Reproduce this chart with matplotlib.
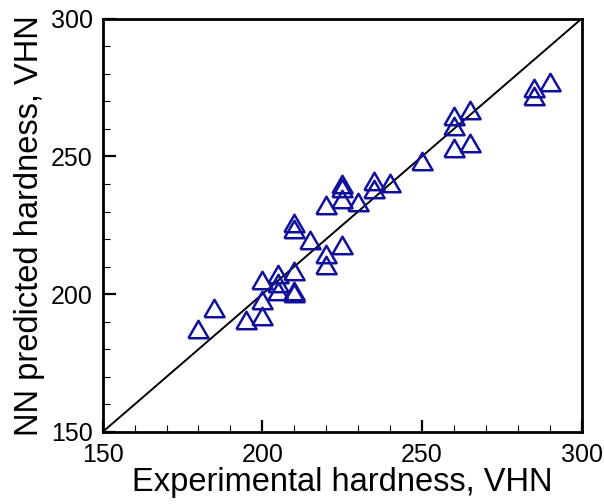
import matplotlib.pyplot as plt
from matplotlib.ticker import MultipleLocator

plt.rcParams['font.family'] = ['Liberation Sans', 'DejaVu Sans']

# experimental vs NN predicted hardness (VHN)
experimental = [180, 185, 195, 200, 200, 200, 205, 205, 205, 210, 210, 210,
                210, 210, 215, 220, 220, 220, 225, 225, 225, 225, 230, 235,
                235, 240, 250, 260, 260, 260, 265, 265, 285, 285, 290]
predicted = [187.5, 195, 190.5, 192, 198, 205, 207.5, 204, 201, 208.5, 201, 200.5,
             226, 223.5, 219.5, 232.5, 214.5, 210.5, 218, 240, 238.5, 234.5, 233.5, 241,
             238, 240.5, 248.5, 264.5, 261, 253, 267, 255, 275, 272, 277]

x_label = 'Experimental hardness, VHN'
y_label = 'NN predicted hardness, VHN'
lims = [150, 300]

# equilateral triangle marker
tri = [(-1, -0.866), (1, -0.866), (0, 0.866), (-1, -0.866)]

fig = plt.figure(figsize=(6.04, 5.04), dpi=100)
ax = fig.add_axes([0.170, 0.143, 0.793, 0.820])

ax.plot(lims, lims, color='black', lw=1.4, zorder=1)
ax.plot(experimental, predicted, linestyle='none', marker=tri, ms=14.5,
        mfc='none', mec='#10109a', mew=1.8, zorder=2)

ax.set_xlim(lims)
ax.set_ylim(lims)
ax.xaxis.set_major_locator(MultipleLocator(50))
ax.yaxis.set_major_locator(MultipleLocator(50))
ax.xaxis.set_minor_locator(MultipleLocator(10))
ax.yaxis.set_minor_locator(MultipleLocator(10))
ax.tick_params(which='both', direction='in', color='black', labelsize=18)
ax.tick_params(which='major', length=9, width=1.6)
ax.tick_params(which='minor', length=5, width=0.8)
ax.tick_params(axis='x', pad=8)
ax.tick_params(axis='y', pad=7)

for sp in ax.spines.values():
    sp.set_linewidth(2.0)

ax.set_xlabel(x_label, fontsize=23.5, labelpad=0)
ax.set_ylabel(y_label, fontsize=23.5, labelpad=4)

fig.savefig('out.png', dpi=100)
